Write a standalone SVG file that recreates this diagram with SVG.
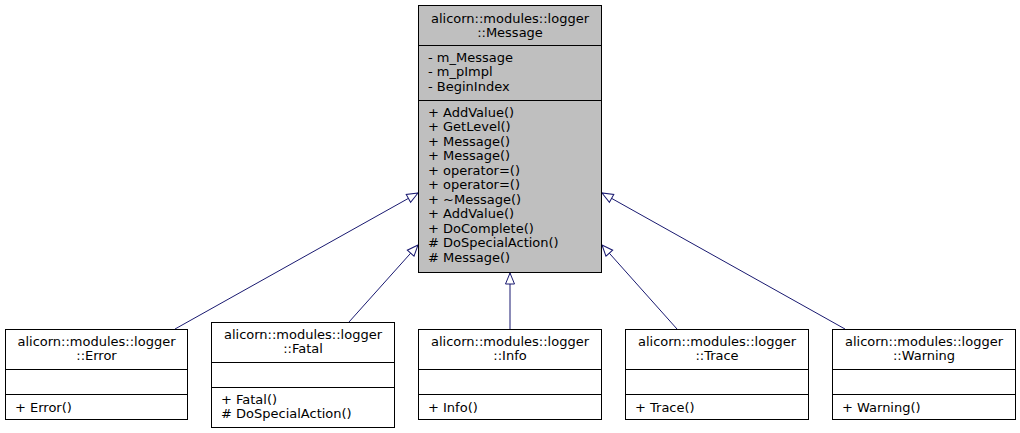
<svg xmlns="http://www.w3.org/2000/svg" width="1020" height="433" viewBox="0 0 1020 433">
<style>
text{font-family:"DejaVu Sans","Verdana",sans-serif;font-size:13px;fill:#000}
.c{text-anchor:middle}
.box{fill:#fff;stroke:#000;stroke-width:1}
.main{fill:#bfbfbf;stroke:#000;stroke-width:1}
.sep{stroke:#000;stroke-width:1}
.edge{fill:none;stroke:#191970;stroke-width:1;marker-end:url(#tri)}
</style>
<defs>
<marker id="tri" markerUnits="userSpaceOnUse" markerWidth="14" markerHeight="12" viewBox="-12 -6 14 12" refX="0" refY="0" orient="auto">
<path d="M0,0 L-11,-4.5 L-11,4.5 Z" fill="#fff" stroke="#191970" stroke-width="1"/>
</marker>
</defs>
<rect width="1020" height="433" fill="#fff"/>
<g id="connectors">
<path class="edge" d="M175,329 L418,193"/>
<path class="edge" d="M349,322 L418,245"/>
<path class="edge" d="M510,329 L510,273"/>
<path class="edge" d="M677,329 L602,245"/>
<path class="edge" d="M845,329 L602,193"/>
</g>
<g id="Message">
<rect class="main" x="418.5" y="5.5" width="183" height="267"/>
<line class="sep" x1="418.5" y1="45.5" x2="601.5" y2="45.5"/>
<line class="sep" x1="418.5" y1="100.5" x2="601.5" y2="100.5"/>
<text class="c" x="510" y="23">alicorn::modules::logger</text>
<text class="c" x="510" y="37">::Message</text>
<text x="428" y="62">- m_Message</text>
<text x="428" y="76">- m_pImpl</text>
<text x="428" y="90.5">- BeginIndex</text>
<text x="428" y="116.5">+ AddValue()</text>
<text x="428" y="131">+ GetLevel()</text>
<text x="428" y="145.5">+ Message()</text>
<text x="428" y="160">+ Message()</text>
<text x="428" y="174.5">+ operator=()</text>
<text x="428" y="189">+ operator=()</text>
<text x="428" y="203.5">+ ~Message()</text>
<text x="428" y="218">+ AddValue()</text>
<text x="428" y="232.5">+ DoComplete()</text>
<text x="428" y="247"># DoSpecialAction()</text>
<text x="428" y="261.5"># Message()</text>
</g>
<g id="Error">
<rect class="box" x="5.5" y="329.5" width="182" height="90"/>
<line class="sep" x1="5.5" y1="369.5" x2="187.5" y2="369.5"/>
<line class="sep" x1="5.5" y1="394.5" x2="187.5" y2="394.5"/>
<text class="c" x="96.5" y="346">alicorn::modules::logger</text>
<text class="c" x="96.5" y="360">::Error</text>
<text x="15" y="411.5">+ Error()</text>
</g>
<g id="Fatal">
<rect class="box" x="211.5" y="322.5" width="183" height="105"/>
<line class="sep" x1="211.5" y1="362.5" x2="394.5" y2="362.5"/>
<line class="sep" x1="211.5" y1="387.5" x2="394.5" y2="387.5"/>
<text class="c" x="303" y="339">alicorn::modules::logger</text>
<text class="c" x="303" y="353">::Fatal</text>
<text x="221" y="403.5">+ Fatal()</text>
<text x="221" y="418"># DoSpecialAction()</text>
</g>
<g id="Info">
<rect class="box" x="418.5" y="329.5" width="183" height="90"/>
<line class="sep" x1="418.5" y1="369.5" x2="601.5" y2="369.5"/>
<line class="sep" x1="418.5" y1="394.5" x2="601.5" y2="394.5"/>
<text class="c" x="510" y="346">alicorn::modules::logger</text>
<text class="c" x="510" y="360">::Info</text>
<text x="428" y="411.5">+ Info()</text>
</g>
<g id="Trace">
<rect class="box" x="625.5" y="329.5" width="183" height="90"/>
<line class="sep" x1="625.5" y1="369.5" x2="808.5" y2="369.5"/>
<line class="sep" x1="625.5" y1="394.5" x2="808.5" y2="394.5"/>
<text class="c" x="717" y="346">alicorn::modules::logger</text>
<text class="c" x="717" y="360">::Trace</text>
<text x="635" y="411.5">+ Trace()</text>
</g>
<g id="Warning">
<rect class="box" x="832.5" y="329.5" width="183" height="90"/>
<line class="sep" x1="832.5" y1="369.5" x2="1015.5" y2="369.5"/>
<line class="sep" x1="832.5" y1="394.5" x2="1015.5" y2="394.5"/>
<text class="c" x="924" y="346">alicorn::modules::logger</text>
<text class="c" x="924" y="360">::Warning</text>
<text x="842" y="411.5">+ Warning()</text>
</g>
</svg>
